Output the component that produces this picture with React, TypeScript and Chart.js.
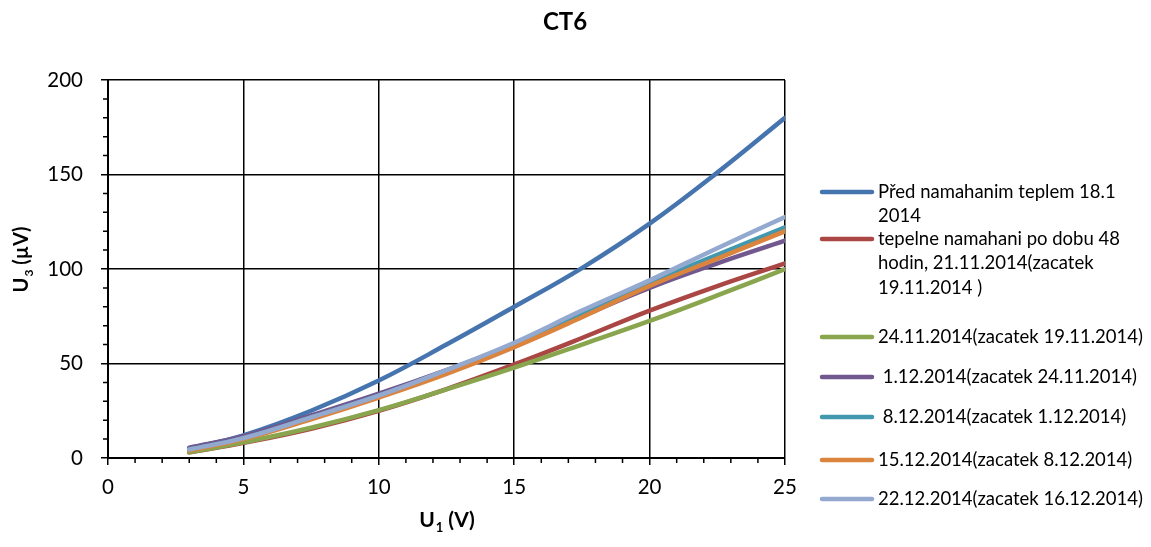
import React, { useEffect, useRef } from "react";
import { Chart, registerables } from "chart.js";

Chart.register(...registerables);

const xValues = [3, 5, 7.5, 10, 12.5, 15, 17.5, 20, 22.5, 25];

const seriesPred = [5, 12, 25, 41, 60, 80, 100.5, 124, 151, 180];
const series2111 = [3, 8, 15.5, 25, 36.5, 49.5, 63.5, 78, 91, 103];
const series2411 = [3, 8.3, 16, 25.3, 36.3, 47.8, 60, 72.5, 86, 100];
const series0112 = [5.5, 11.5, 22.5, 34, 46.5, 60, 75, 90, 103, 115];
const series0812 = [4.5, 10.5, 21.5, 33, 46, 60, 76.5, 92.5, 107.5, 122];
const series1512 = [4, 10, 20.5, 32, 44.5, 58.7, 74.5, 91, 105.5, 120];
const series2212 = [4.5, 10.5, 21.5, 33, 46.5, 61, 78, 94, 111, 127.5];

const seriesLabels: string[][] = [
  ["Před namahanim teplem 18.1", "2014"],
  ["tepelne namahani po dobu 48", "hodin, 21.11.2014(zacatek", "19.11.2014 )"],
  ["24.11.2014(zacatek 19.11.2014)"],
  [" 1.12.2014(zacatek 24.11.2014)"],
  [" 8.12.2014(zacatek 1.12.2014)"],
  ["15.12.2014(zacatek 8.12.2014)"],
  ["22.12.2014(zacatek 16.12.2014)"],
];

const seriesColors = ["#4674AE", "#AA4643", "#89A54E", "#71588F", "#4198AF", "#DB843D", "#93A9CF"];

const xTickLabels = ["0", "5", "10", "15", "20", "25"];
const yTickLabels = ["0", "50", "100", "150", "200"];

const titleText = "CT6";
const FONT = "Lato, 'Open Sans', sans-serif";

function drawSubText(ctx: CanvasRenderingContext2D, main: string, sub: string, rest: string, cx: number, cy: number, size: number) {
  const big = `bold ${size}px ${FONT}`;
  const small = `bold ${Math.round(size * 0.62)}px ${FONT}`;
  ctx.font = big;
  const w1 = ctx.measureText(main).width;
  const w3 = ctx.measureText(rest).width;
  ctx.font = small;
  const w2 = ctx.measureText(sub).width;
  const total = w1 + w2 + w3;
  let x = cx - total / 2;
  ctx.textBaseline = "middle";
  ctx.textAlign = "left";
  ctx.font = big;
  ctx.fillText(main, x, cy);
  x += w1;
  ctx.font = small;
  ctx.fillText(sub, x + 1, cy + size * 0.38);
  x += w2 + 1;
  ctx.font = big;
  ctx.fillText(rest, x, cy);
}

const overlayPlugin = {
  id: "overlay",
  afterDraw(chart: any) {
    const ctx: CanvasRenderingContext2D = chart.ctx;
    const area = chart.chartArea;
    const xs = chart.scales.x;
    const ys = chart.scales.y;
    ctx.save();
    ctx.fillStyle = "#000";
    ctx.strokeStyle = "#000";
    // minor ticks
    ctx.lineWidth = 1.5;
    ctx.beginPath();
    for (let v = 0; v <= 25; v++) {
      if (v % 5 === 0) continue;
      const px = xs.getPixelForValue(v);
      ctx.moveTo(px, area.bottom);
      ctx.lineTo(px, area.bottom + 5);
    }
    for (let v = 0; v <= 200; v += 10) {
      if (v % 50 === 0) continue;
      const py = ys.getPixelForValue(v);
      ctx.moveTo(area.left - 5, py);
      ctx.lineTo(area.left, py);
    }
    ctx.stroke();

    // title
    ctx.font = `bold 24px ${FONT}`;
    ctx.textAlign = "center";
    ctx.textBaseline = "middle";
    ctx.fillText(titleText, 557, 14);

    // axis titles
    drawSubText(ctx, "U", "1", " (V)", (area.left + area.right) / 2, 512, 21);
    ctx.save();
    ctx.translate(14, 252);
    ctx.rotate(-Math.PI / 2);
    drawSubText(ctx, "U", "3", " (µV)", 0, 0, 20);
    ctx.restore();

    // legend
    const legendY = [184, 231, 329, 369, 409, 452, 491];
    const lineH = 24.5;
    ctx.lineCap = "round";
    ctx.lineWidth = 4.5;
    ctx.font = `18.5px ${FONT}`;
    ctx.textAlign = "left";
    ctx.textBaseline = "middle";
    seriesLabels.forEach((lines, i) => {
      const y = legendY[i];
      ctx.strokeStyle = seriesColors[i];
      ctx.beginPath();
      ctx.moveTo(814, y);
      ctx.lineTo(864, y);
      ctx.stroke();
      ctx.fillStyle = "#000";
      lines.forEach((t, j) => ctx.fillText(t, 870, y + j * lineH));
    });
    ctx.restore();
  },
};

export default function App() {
  const ref = useRef<HTMLCanvasElement | null>(null);
  useEffect(() => {
    if (!ref.current) return;
    const allSeries = [seriesPred, series2111, series2411, series0112, series0812, series1512, series2212];
    const chart = new Chart(ref.current, {
      type: "line",
      data: {
        datasets: allSeries.map((s, i) => ({
          label: seriesLabels[i].join(" "),
          data: s.map((y, k) => ({ x: xValues[k], y })),
          borderColor: seriesColors[i],
          backgroundColor: seriesColors[i],
          borderWidth: 4.5,
          pointRadius: 0,
          tension: 0.4,
          borderCapStyle: "round" as const,
          borderJoinStyle: "round" as const,
          order: allSeries.length - i,
        })),
      },
      options: {
        animation: false,
        responsive: false,
        layout: { padding: { top: 72, right: 358, left: 0, bottom: 0 } },
        plugins: { legend: { display: false }, title: { display: false }, tooltip: { enabled: false } },
        scales: {
          x: {
            type: "linear",
            min: 0,
            max: 25,
            afterFit: (s: any) => { s.height = 81; },
            border: { color: "#000", width: 2 },
            grid: {
              color: (c: any) => (c.tick && c.tick.value % 5 === 0 ? "#000" : "rgba(0,0,0,0)"),
              tickColor: (c: any) => (c.tick && c.tick.value % 5 === 0 ? "#000" : "rgba(0,0,0,0)"),
              lineWidth: 1.5,
              tickLength: 7,
            },
            ticks: {
              stepSize: 1,
              autoSkip: false,
              maxRotation: 0,
              padding: 10,
              color: "#000",
              font: { family: FONT, size: 20.5 },
              callback: (v: any) => (Number(v) % 5 === 0 ? xTickLabels[Number(v) / 5] : ""),
            },
          },
          y: {
            type: "linear",
            min: 0,
            max: 200,
            afterFit: (s: any) => { s.width = 100; },
            border: { color: "#000", width: 2 },
            grid: {
              color: (c: any) => (c.tick && c.tick.value % 50 === 0 ? "#000" : "rgba(0,0,0,0)"),
              tickColor: (c: any) => (c.tick && c.tick.value % 50 === 0 ? "#000" : "rgba(0,0,0,0)"),
              lineWidth: 1.5,
              tickLength: 7,
            },
            ticks: {
              stepSize: 10,
              autoSkip: false,
              padding: 18,
              color: "#000",
              font: { family: FONT, size: 20.5 },
              callback: (v: any) => (Number(v) % 50 === 0 ? yTickLabels[Number(v) / 50] : ""),
            },
          },
        },
      },
      plugins: [overlayPlugin],
    });
    return () => chart.destroy();
  }, []);
  return <canvas ref={ref} width={1135} height={531} style={{ display: "block" }} />;
}
